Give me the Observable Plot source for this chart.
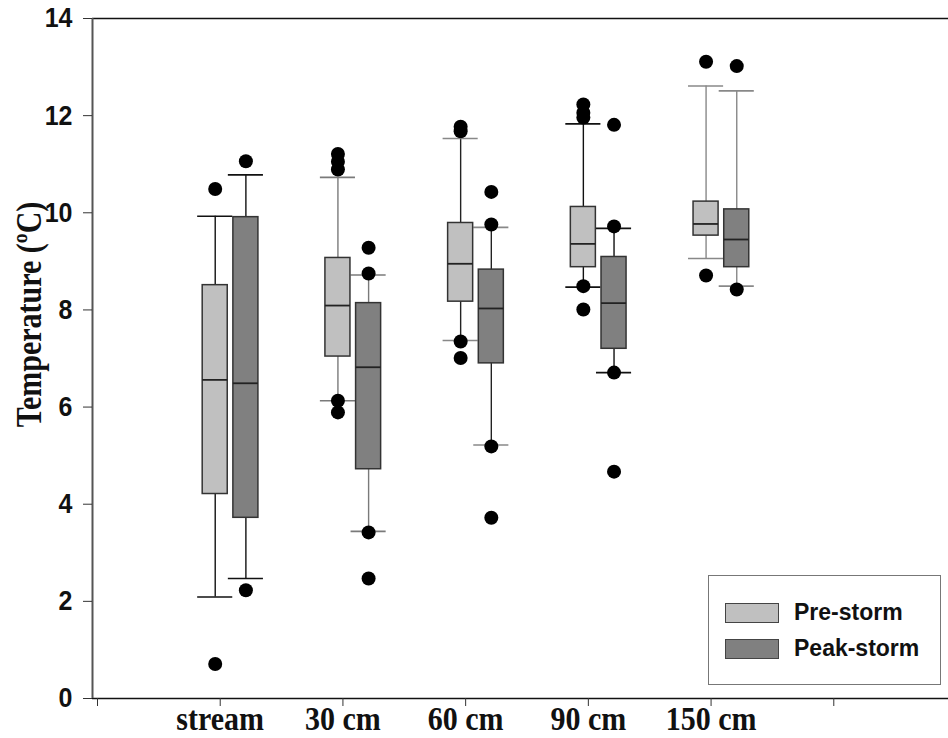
<!DOCTYPE html>
<html><head><meta charset="utf-8">
<script src="https://cdn.jsdelivr.net/npm/d3@7"></script>
<script src="https://cdn.jsdelivr.net/npm/@observablehq/plot@0.6"></script>
<style>
body{margin:0;background:#fff;}
#wrap{position:relative;width:948px;height:738px;overflow:hidden;}
#legend{position:absolute;left:708px;top:575px;width:231px;height:108px;border:1.5px solid #777;background:#fff;font:bold 23px "Liberation Sans",Arial,sans-serif;color:#111;}
#legend .row{position:absolute;left:16px;display:flex;align-items:center;}
#legend .sw{width:52px;height:18px;border:1.5px solid #444;margin-right:15px;}
</style></head><body><div id="wrap"></div>
<script>
const categories = ["stream", "30 cm", "60 cm", "90 cm", "150 cm"];
const series = ["Pre-storm", "Peak-storm"];
const yTicks = [0, 2, 4, 6, 8, 10, 12, 14];
const yLabel = "Temperature (ºC)";
// [lower whisker, Q1, median, Q3, upper whisker]
const preStats = [
  [2.09, 4.21, 6.56, 8.51, 9.93],
  [6.13, 7.04, 8.09, 9.07, 10.73],
  [7.37, 8.17, 8.95, 9.79, 11.53],
  [8.47, 8.88, 9.36, 10.12, 11.83],
  [9.06, 9.53, 9.77, 10.23, 12.61]
];
const peakStats = [
  [2.47, 3.72, 6.49, 9.91, 10.78],
  [3.44, 4.72, 6.82, 8.14, 8.72],
  [5.22, 6.90, 8.03, 8.83, 9.70],
  [6.71, 7.20, 8.14, 9.09, 9.68],
  [8.49, 8.88, 9.45, 10.07, 12.51]
];
const preOutliers = [
  [0.71, 10.49],
  [5.89, 6.13, 10.89, 11.05, 11.21],
  [7.01, 7.35, 11.68, 11.77],
  [8.01, 8.49, 11.96, 12.06, 12.23],
  [8.71, 13.11]
];
const peakOutliers = [
  [2.23, 11.06],
  [2.47, 3.42, 8.75, 9.28],
  [3.72, 5.19, 9.76, 10.43],
  [4.67, 6.71, 9.72, 11.81],
  [8.42, 13.02]
];

// styles
const seriesFill = {"Pre-storm": "#c0c0c0", "Peak-storm": "#808080"};
const whiskerColor = ["#111", "#7a7a7a", "#222", "#111", "#888"];
const capColor = ["#111", "#7a7a7a", "#888", "#111", "#888"];
const dodge = {"Pre-storm": 0, "Peak-storm": 0.25};
const boxHalf = 0.102, capHalf = 0.143;

const boxes = [];
const outliers = [];
categories.forEach((c, i) => {
  series.forEach((s) => {
    const st = s === "Pre-storm" ? preStats[i] : peakStats[i];
    const xc = i + 1 + dodge[s];
    boxes.push({cat: c, series: s, x: xc, low: st[0], q1: st[1], med: st[2], q3: st[3], high: st[4], wc: whiskerColor[i], cc: capColor[i]});
    const outs = s === "Pre-storm" ? preOutliers[i] : peakOutliers[i];
    outs.forEach(v => outliers.push({cat: c, series: s, x: xc, y: v}));
  });
});

const plot = Plot.plot({
  width: 948, height: 738,
  marginLeft: 92, marginRight: 0, marginTop: 18, marginBottom: 40,
  x: {domain: [0, 7], range: [92, 951]},
  y: {domain: [0, 14]},
  style: {background: "white", color: "#111"},
  marks: [
    Plot.ruleY([14], {stroke: "#111", strokeWidth: 1.5}),
    Plot.ruleY([0], {stroke: "#111", strokeWidth: 1.6}),
    Plot.ruleX([0], {stroke: "#555", strokeWidth: 2}),
    Plot.axisY({ticks: yTicks, tickSize: 9, tickPadding: 11, label: null, stroke: "#333",
      fontSize: 25, fontWeight: "bold", fontFamily: "Liberation Sans", fill: "#111"}),
    Plot.axisX({ticks: [0, 1, 2, 3, 4, 5, 6], tickSize: 8, tickPadding: 0, label: null, stroke: "#333",
      tickFormat: d => categories[d - 1] ?? "", dx: 5,
      fontSize: 30, fontWeight: "bold", fontFamily: "Liberation Serif", fill: "#111"}),
    Plot.text([yLabel], {frameAnchor: "left", textAnchor: "middle", lineAnchor: "middle", rotate: -90, dx: -63, dy: -44,
      fontSize: 30, fontWeight: "bold", fontFamily: "Liberation Serif", fill: "#111"}),
    // whiskers
    Plot.ruleX(boxes, {x: "x", y1: "low", y2: "high", stroke: "wc", strokeWidth: 1.4}),
    Plot.ruleY(boxes, {y: "low", x1: d => d.x - capHalf, x2: d => d.x + capHalf, stroke: "cc", strokeWidth: 1.6}),
    Plot.ruleY(boxes, {y: "high", x1: d => d.x - capHalf, x2: d => d.x + capHalf, stroke: "cc", strokeWidth: 1.6}),
    // boxes
    Plot.rect(boxes, {x1: d => d.x - boxHalf, x2: d => d.x + boxHalf, y1: "q1", y2: "q3",
      fill: d => seriesFill[d.series], stroke: "#333", strokeWidth: 1.5}),
    Plot.ruleY(boxes, {y: "med", x1: d => d.x - boxHalf, x2: d => d.x + boxHalf, stroke: "#222", strokeWidth: 1.8}),
    // outliers
    Plot.dot(outliers, {x: "x", y: "y", r: 7, fill: "#000", stroke: "none"})
  ]
});

// slight vertical stretch of glyphs, as in the original figure
function stretch(sel, sy) {
  d3.select(plot).selectAll(sel).each(function() {
    const t = this.getAttribute("transform");
    if (t && t.includes("translate")) this.setAttribute("transform", t + ` scale(1,${sy})`);
  });
}
stretch('g[aria-label="x-axis tick label"] text', 1.1);
stretch('g[aria-label="y-axis tick label"] text', 1.12);
stretch('g[aria-label="text"] text', 1.2);

document.getElementById("wrap").appendChild(plot);

const legend = document.createElement("div");
legend.id = "legend";
series.forEach((s, j) => {
  const row = document.createElement("div");
  row.className = "row";
  row.style.top = (j === 0 ? 23 : 59) + "px";
  const sw = document.createElement("div");
  sw.className = "sw";
  sw.style.background = seriesFill[s];
  const t = document.createElement("span");
  t.textContent = s;
  row.appendChild(sw); row.appendChild(t);
  legend.appendChild(row);
});
document.getElementById("wrap").appendChild(legend);
</script>
</body></html>
